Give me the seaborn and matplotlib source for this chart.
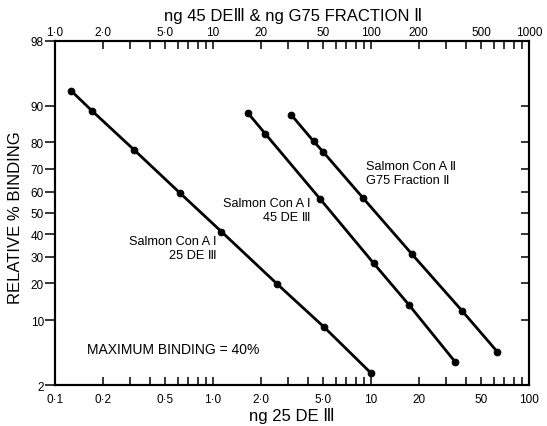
import numpy as np
import pandas as pd
import matplotlib
matplotlib.use('Agg')
import matplotlib.pyplot as plt
import seaborn as sns
from statistics import NormalDist
from matplotlib.ticker import FixedLocator, FixedFormatter, NullFormatter, NullLocator, LogLocator

# ---------------- data ----------------
# Salmon Con A I, 25 DE III  (bottom axis, ng 25 DE III)
dose_25 = [0.126, 0.171, 0.317, 0.616, 1.13, 2.55, 5.03, 10.0]
bind_25 = [92.8, 88.9, 77.4, 59.5, 41.2, 19.8, 8.7, 2.8]
# Salmon Con A I, 45 DE III  (top axis, ng)
dose_45 = [16.6, 21.4, 47.7, 104, 175, 340]
bind_45 = [88.4, 82.8, 56.6, 27.4, 13.5, 3.8]
# Salmon Con A II, G75 Fraction II  (top axis, ng)
dose_g75 = [31.3, 43.3, 49.8, 89, 182, 376, 629]
bind_g75 = [87.9, 80.4, 76.7, 57.1, 31.1, 12.2, 4.9]

bottom_ticks = [0.1, 0.2, 0.5, 1, 2, 5, 10, 20, 50, 100]
bottom_labels = ['0·1', '0·2', '0·5', '1·0', '2·0', '5·0', '10', '20', '50', '100']
top_ticks = [1, 2, 5, 10, 20, 50, 100, 200, 500, 1000]
top_labels = ['1·0', '2·0', '5·0', '10', '20', '50', '100', '200', '500', '1000']
y_ticks = [2, 10, 20, 30, 40, 50, 60, 70, 80, 90, 98]
y_labels = ['2', '10', '20', '30', '40', '50', '60', '70', '80', '90', '98']

# ---------------- probit (normal probability) scale ----------------
_nd = NormalDist()


def _ppf(p):
    return _nd.inv_cdf(min(max(p, 1e-9), 1 - 1e-9))


_ppf_v = np.vectorize(_ppf, otypes=[float])
_cdf_v = np.vectorize(_nd.cdf, otypes=[float])


def probit_fwd(y):
    return _ppf_v(np.asarray(y, dtype=float) / 100.0)


def probit_inv(z):
    return _cdf_v(np.asarray(z, dtype=float)) * 100.0


sns.set_style('ticks')
plt.rcParams['font.family'] = ['Liberation Sans', 'DejaVu Sans']
plt.rcParams.update({'text.color': 'black', 'axes.labelcolor': 'black',
                     'xtick.color': 'black', 'ytick.color': 'black',
                     'axes.edgecolor': 'black'})

fig = plt.figure(figsize=(5.47, 4.27), dpi=100)
ax = fig.add_axes([0.1005, 0.096, 0.8665, 0.806])
ax.set_xscale('log')
ax.set_yscale('function', functions=(probit_fwd, probit_inv))

line_kw = dict(color='black', linewidth=2.0, marker='o', markersize=4.8,
               markeredgecolor='black', markerfacecolor='black',
               sort=False, estimator=None)

df25 = pd.DataFrame({'dose': dose_25, 'binding': bind_25})
sns.lineplot(data=df25, x='dose', y='binding', ax=ax, **line_kw)

ax2 = ax.twiny()
ax2.set_xscale('log')
df45 = pd.DataFrame({'dose': dose_45, 'binding': bind_45})
dfg75 = pd.DataFrame({'dose': dose_g75, 'binding': bind_g75})
sns.lineplot(data=df45, x='dose', y='binding', ax=ax2, **line_kw)
sns.lineplot(data=dfg75, x='dose', y='binding', ax=ax2, **line_kw)

ax.set_xlim(0.1, 100)
ax2.set_xlim(1, 1000)
ax.set_ylim(2, 98)

# ---- ticks ----
tick_fs = 8.5
ax.xaxis.set_major_locator(FixedLocator(bottom_ticks))
ax.xaxis.set_major_formatter(FixedFormatter(bottom_labels))
ax.xaxis.set_minor_locator(LogLocator(base=10, subs=np.arange(1, 10)))
ax.xaxis.set_minor_formatter(NullFormatter())
ax.tick_params(axis='x', which='both', direction='in', length=6, width=1.1,
               bottom=True, top=False, labelsize=tick_fs, pad=6, color='black',
               labelcolor='black')

ax2.xaxis.set_major_locator(FixedLocator(top_ticks))
ax2.xaxis.set_major_formatter(FixedFormatter(top_labels))
ax2.xaxis.set_minor_locator(LogLocator(base=10, subs=np.arange(1, 10)))
ax2.xaxis.set_minor_formatter(NullFormatter())
ax2.tick_params(axis='x', which='both', direction='in', length=6, width=1.1,
                top=True, bottom=False, labelsize=tick_fs, pad=2, color='black',
                labelcolor='black')

ax.yaxis.set_major_locator(FixedLocator(y_ticks))
ax.yaxis.set_major_formatter(FixedFormatter(y_labels))
ax.yaxis.set_minor_locator(NullLocator())
ax.tick_params(axis='y', which='major', direction='out', length=7, width=1.1,
               left=True, right=False, labelsize=tick_fs, pad=1, color='black',
               labelcolor='black')

ax2.yaxis.set_visible(True)
ax2.tick_params(axis='y', which='major', direction='in', length=6, width=1.1,
                left=False, right=True, labelleft=False, labelright=False,
                color='black')
ax2.set_ylabel('')

for a in (ax, ax2):
    for s in a.spines.values():
        s.set_linewidth(1.5)
        s.set_color('black')

# ---- axis labels ----
ax.set_xlabel('ng 25 DE Ⅲ', fontsize=12, color='black')
ax.xaxis.set_label_coords(0.5, -0.064)
ax2.set_xlabel('ng 45 DEⅢ & ng G75 FRACTION Ⅱ', fontsize=12, color='black')
ax2.xaxis.set_label_coords(0.502, 1.06)
ax.set_ylabel('RELATIVE % BINDING', fontsize=12, color='black')
ax.yaxis.set_label_coords(-0.068, 0.488)

# ---- annotations ----
ax.text(0.340, 0.399, 'Salmon Con A Ⅰ\n25 DE Ⅲ', transform=ax.transAxes,
        ha='right', va='center', multialignment='right', fontsize=9.2, linespacing=1.25)
ax.text(0.540, 0.508, 'Salmon Con A Ⅰ\n45 DE Ⅲ', transform=ax.transAxes,
        ha='right', va='center', multialignment='right', fontsize=9.2, linespacing=1.25)
ax.text(0.656, 0.616, 'Salmon Con A Ⅱ\nG75 Fraction Ⅱ', transform=ax.transAxes,
        ha='left', va='center', multialignment='left', fontsize=9.2, linespacing=1.25)
ax.text(0.0675, 0.1046, 'MAXIMUM BINDING = 40%', transform=ax.transAxes,
        ha='left', va='center', fontsize=10)

fig.savefig('out.png', dpi=100)
